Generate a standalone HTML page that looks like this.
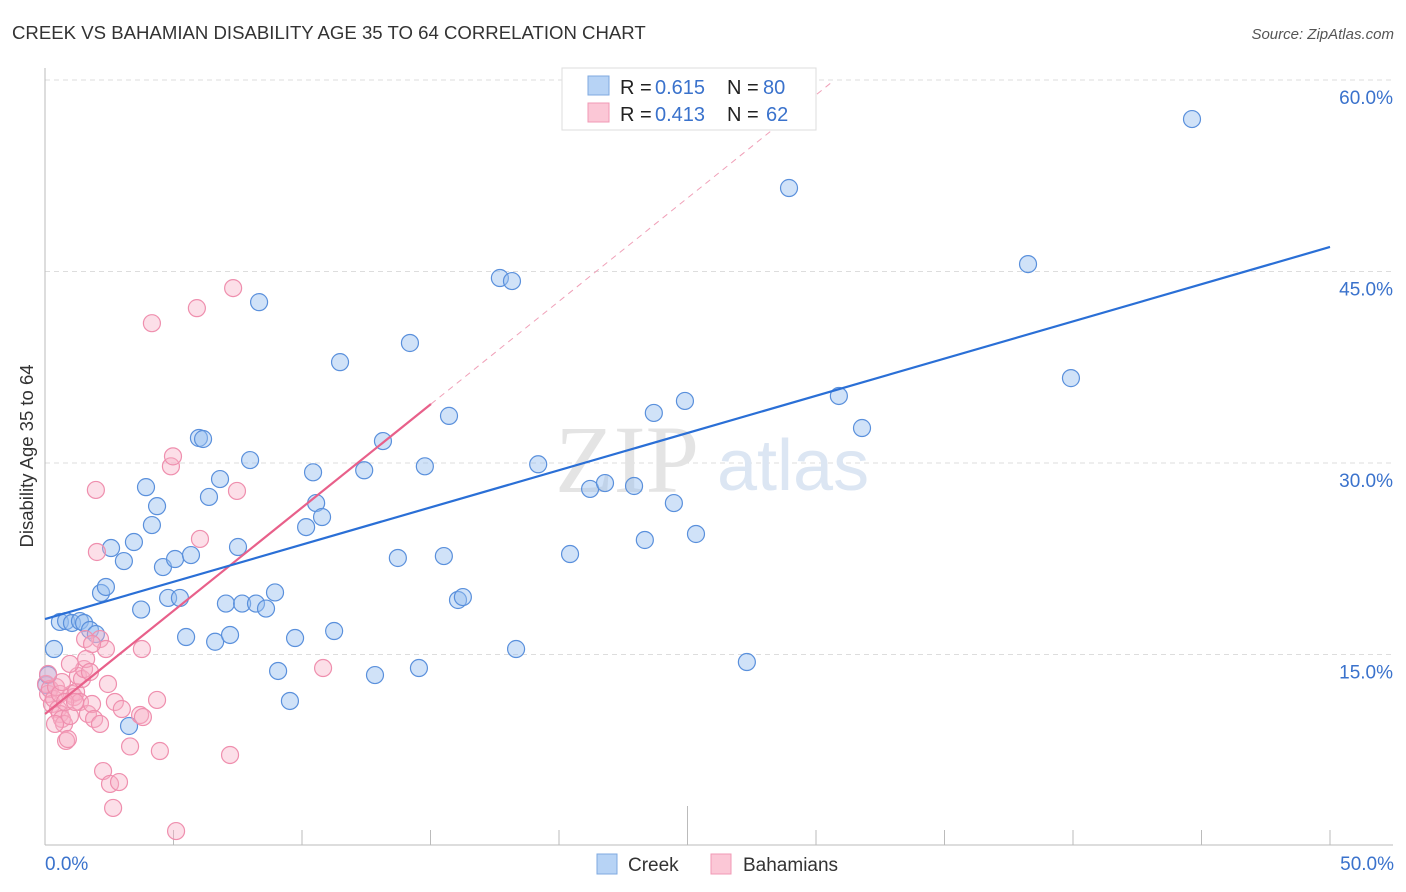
<!DOCTYPE html>
<html><head><meta charset="utf-8"><style>
body{margin:0;background:#fff;font-family:"Liberation Sans",sans-serif;}
svg{display:block}
</style></head><body>
<svg id="chart" width="1406" height="892">
<text x="12" y="39" font-size="18.6" fill="#333">CREEK VS BAHAMIAN DISABILITY AGE 35 TO 64 CORRELATION CHART</text>
<text x="1394" y="39" font-size="15" fill="#555" font-style="italic" text-anchor="end">Source: ZipAtlas.com</text>
<text transform="translate(33,456) rotate(-90)" font-size="18.5" fill="#333" text-anchor="middle">Disability Age 35 to 64</text>
<g id="grid"></g>
<text x="555" y="492" font-size="96" fill="#e4e4e4" font-family="Liberation Serif,serif">ZIP</text>
<text x="717" y="490" font-size="72" fill="#dce6f3">atlas</text>
<g id="marks"></g>
<g>
<rect x="562" y="68" width="254" height="62" fill="#fff" stroke="#ddd"/>
<rect x="588" y="76" width="21" height="19" fill="#b7d3f5" stroke="#7fa9e0"/>
<rect x="588" y="103" width="21" height="19" fill="#fbc7d6" stroke="#f09ab5"/>
<text x="620" y="94" font-size="20" fill="#222">R = </text><text x="655" y="94" font-size="20" fill="#3a72cc">0.615</text>
<text x="727" y="94" font-size="20" fill="#222">N = </text><text x="763" y="94" font-size="20" fill="#3a72cc">80</text>
<text x="620" y="121" font-size="20" fill="#222">R = </text><text x="655" y="121" font-size="20" fill="#3a72cc">0.413</text>
<text x="727" y="121" font-size="20" fill="#222">N = </text><text x="766" y="121" font-size="20" fill="#3a72cc">62</text>
</g>
<g>
<rect x="597" y="854" width="20" height="20" fill="#b7d3f5" stroke="#7fa9e0"/>
<text x="628" y="871" font-size="19" fill="#333">Creek</text>
<rect x="711" y="854" width="20" height="20" fill="#fbc7d6" stroke="#f09ab5"/>
<text x="743" y="871" font-size="19" fill="#333">Bahamians</text>
</g>
</svg>
<script>
const yTicks=[15,30,45,60];
const xTickLabels=["0.0%","50.0%"];
const creekX=[0.35,0.58,0.82,1.05,1.36,1.52,1.75,1.98,2.18,2.37,2.57,3.07,3.27,3.46,3.74,3.93,4.16,4.36,4.59,4.79,5.06,5.25,5.49,5.68,5.99,6.15,6.38,6.62,6.81,7.04,7.2,7.51,7.67,7.98,8.21,8.33,8.6,8.95,9.07,9.53,9.73,10.16,10.43,10.55,10.78,11.25,11.48,12.42,12.84,13.15,13.73,14.2,14.55,14.78,15.52,15.72,16.07,16.26,17.7,18.17,18.33,19.19,20.43,21.21,21.79,22.92,23.34,23.69,24.47,24.9,25.33,27.31,28.95,30.89,31.79,38.25,39.92,44.63,0.05,0.12];
const creekY=[15.43,17.55,17.62,17.47,17.62,17.47,16.92,16.6,19.82,20.29,23.34,22.32,9.4,23.81,18.52,28.11,25.14,26.62,21.85,19.43,22.48,19.43,16.37,22.79,31.96,31.88,27.34,16.0,28.74,18.99,16.53,23.42,18.99,30.23,18.99,42.6,18.6,19.86,13.71,11.36,16.29,24.98,29.27,26.86,25.77,16.84,37.9,29.43,13.39,31.72,22.56,39.4,13.94,29.74,22.71,33.69,19.27,19.5,44.49,44.25,15.43,29.9,22.87,27.97,28.43,28.2,23.97,33.92,26.86,34.86,24.44,14.41,51.54,35.25,32.74,45.58,36.65,56.94,12.61,13.39];
const bahX=[0.04,0.12,0.19,0.27,0.35,0.43,0.51,0.58,0.66,0.74,0.82,0.89,0.97,1.05,1.13,1.21,1.28,1.36,1.44,1.52,1.6,1.67,1.75,1.83,1.91,1.98,2.02,2.14,2.14,2.26,2.37,2.45,2.53,2.65,2.72,2.88,2.99,3.31,3.7,3.77,3.81,4.16,4.36,4.47,4.9,4.98,5.1,5.91,6.03,7.2,7.32,7.47,10.82,0.58,0.78,0.39,0.97,1.17,0.66,1.56,1.83,0.12];
const bahY=[12.69,11.91,12.3,11.12,11.52,12.45,10.73,10.34,9.95,9.56,8.23,8.38,10.18,11.91,11.67,12.06,13.32,11.28,13.08,13.86,14.65,10.34,13.63,11.12,9.95,27.89,23.03,16.21,9.56,5.87,15.43,12.69,4.86,2.98,11.28,5.01,10.73,7.8,10.26,15.43,10.1,40.95,11.44,7.44,29.74,30.52,1.17,42.13,24.05,7.13,43.7,27.81,13.94,11.91,11.28,9.56,14.26,11.28,12.84,16.21,15.82,13.47];
const trendCreek=[17.78,46.92];
const trendBah=[10.34,34.62];
const NS="http://www.w3.org/2000/svg";
const X0=45,X1=1330,YB=846,YT=80;
const sx=v=>X0+(v/50)*(X1-X0);
const sy=v=>YB-(v/60)*(YB-YT);
function mk(tag,attrs,parent){const e=document.createElementNS(NS,tag);for(const k in attrs)e.setAttribute(k,attrs[k]);parent.appendChild(e);return e;}
const grid=document.getElementById('grid'),marks=document.getElementById('marks');
yTicks.forEach(t=>{
 const l=mk('line',{x1:X0,x2:1393,y1:sy(t),y2:sy(t),stroke:'#ddd','stroke-dasharray':'5,4'},grid);
 
 
 const tx=mk('text',{x:1393,y:sy(t)+24,'font-size':19,fill:'#3a72cc','text-anchor':'end'},grid);
 tx.textContent=t.toFixed(1)+'%';
 
 
});
const ax=mk('line',{x1:X0,x2:X0,y1:68,y2:845,stroke:'#bbb'},grid);


const bx=mk('line',{x1:X0,x2:1393,y1:845,y2:845,stroke:'#bbb'},grid);


for(let i=1;i<=10;i++){
 const t=mk('line',{x1:sx(i*5),x2:sx(i*5),y1:845,y2:i==5?806:830,stroke:'#bbb'},grid);
 
 
}
[[0,'start',X0],[50,'end',1394]].forEach((a,i)=>{
 const tx=mk('text',{x:a[2],y:870,'font-size':19,fill:'#3a72cc','text-anchor':a[1]},grid);
 tx.textContent=xTickLabels[i];
 
 
});
creekX.forEach((x,i)=>{
 const c=mk('circle',{cx:sx(x),cy:sy(creekY[i]),r:8.5,fill:'rgba(150,190,240,0.45)',stroke:'#5a90dc','stroke-width':1.2},marks);
 
 
});
bahX.forEach((x,i)=>{
 const c=mk('circle',{cx:sx(x),cy:sy(bahY[i]),r:8.5,fill:'rgba(248,175,198,0.4)',stroke:'#ef8fae','stroke-width':1.2},marks);
 
 
});
const slope=(trendBah[1]-trendBah[0])/15.02;
const xe=30.7;
const d=mk('line',{x1:sx(15.02),y1:sy(trendBah[1]),x2:sx(xe),y2:sy(trendBah[0]+slope*xe),stroke:'#f0a0b8','stroke-dasharray':'6,5','stroke-width':1},marks);


const lb=mk('line',{x1:sx(0),y1:sy(trendBah[0]),x2:sx(15.02),y2:sy(trendBah[1]),stroke:'#e8608a','stroke-width':2.2},marks);


const lc=mk('line',{x1:sx(0),y1:sy(trendCreek[0]),x2:sx(50),y2:sy(trendCreek[1]),stroke:'#2a6fd6','stroke-width':2.2},marks);


</script>
</body></html>
